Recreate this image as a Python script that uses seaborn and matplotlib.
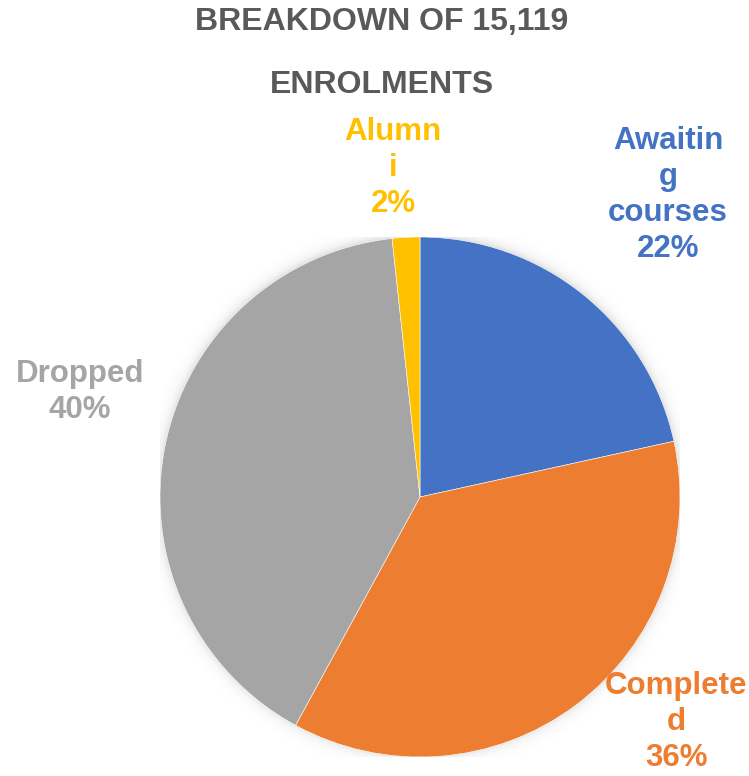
import numpy as np
import matplotlib
matplotlib.use("Agg")
import matplotlib.pyplot as plt
import seaborn as sns

# Enrolment breakdown (total 15,119)
categories = ["Awaiting courses", "Completed", "Dropped", "Alumni"]
counts = [3260, 5500, 6100, 259]
label_lines = ["Awaitin\ng\ncourses", "Complete\nd", "Dropped", "Alumn\ni"]
colors = ["#4472C4", "#ED7D31", "#A5A5A5", "#FFC000"]
title_lines = ["BREAKDOWN OF 15,119", "ENROLMENTS"]

sns.set_theme(style="white")
plt.rcParams["font.family"] = ["Liberation Sans", "DejaVu Sans"]

W, H = 749, 776
fig = plt.figure(figsize=(W / 100, H / 100), dpi=100)
fig.patch.set_facecolor("white")

cx, cy, r = 420, 497, 260
ax = fig.add_axes([(cx - r) / W, (H - cy - r) / H, 2 * r / W, 2 * r / H])

wedges, _ = ax.pie(counts, colors=colors, startangle=90, counterclock=False,
                   radius=1, wedgeprops=dict(edgecolor="white", linewidth=0.4))
for w in wedges:
    w.set_zorder(2)

ax.set_aspect("equal")
ax.axis("off")

# soft drop shadow around the pie
g = np.linspace(-1.1, 1.1, 500)
X, Y = np.meshgrid(g, g)
D = np.sqrt(X**2 + (Y - 0.004) ** 2)
alpha = np.where(D > 0.99, 0.32 * np.exp(-(D - 0.99) / 0.018), 0.32)
shadow = np.zeros((500, 500, 4))
shadow[..., :3] = 0.35
shadow[..., 3] = alpha
ax.imshow(shadow, extent=(-1.1, 1.1, -1.1, 1.1), origin="lower", zorder=0,
          interpolation="bilinear")
ax.set_xlim(-1, 1)
ax.set_ylim(-1, 1)

total = sum(counts)
label_pos = [(0.954, 1.162), (0.985, -0.865), (-1.308, 0.404), (-0.104, 1.265)]
for txt, n, col, (lx, ly) in zip(label_lines, counts, colors, label_pos):
    pct = round(100 * n / total)
    ax.text(lx, ly, f"{txt}\n{pct}%", color=col, fontsize=22.5, fontweight="bold",
            ha="center", va="center", linespacing=1.25, clip_on=False, zorder=5)

fig.text(382 / W, 1 - 22 / H, title_lines[0], ha="center", va="center",
         fontsize=23, fontweight="bold", color="#595959")
fig.text(382 / W, 1 - 85 / H, title_lines[1], ha="center", va="center",
         fontsize=23, fontweight="bold", color="#595959")

fig.savefig("out.png", dpi=100, facecolor="white")
